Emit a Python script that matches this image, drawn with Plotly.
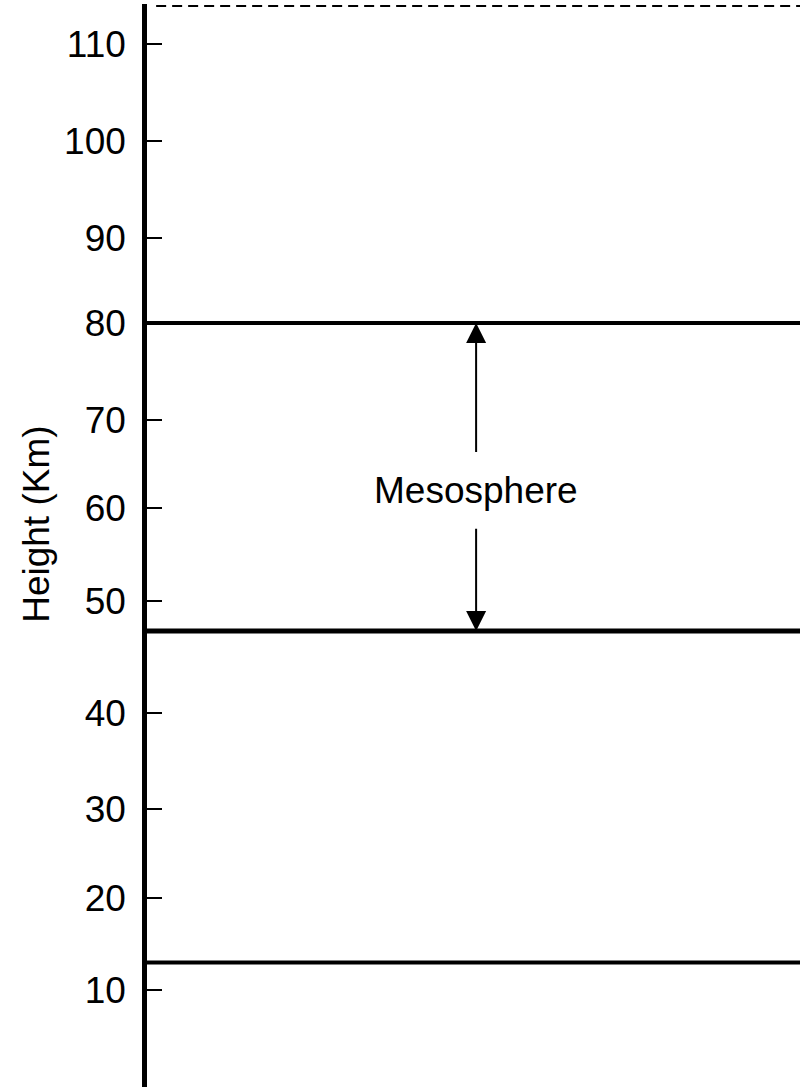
import plotly.graph_objects as go

# Data (km)
tick_values = [10.0, 19.7, 29.15, 39.3, 51.1, 60.95, 70.25, 80.5, 89.5, 99.75, 110.0]
tick_labels = ["10", "20", "30", "40", "50", "60", "70", "80", "90", "100", "110"]
boundary_heights = [12.9, 47.95, 80.5]
boundary_widths = [4, 5, 4]
top_height = 114.0
layer_name = "Mesosphere"
layer_bottom = 47.95
layer_top = 80.5
layer_label_height = 62.8
label_gap = 3.9
y_range = [-0.25, 114.2]
axis_title = "Height (Km)"

FONT = "Liberation Sans, Arial, sans-serif"
FS = 37

fig = go.Figure()
# invisible trace to establish axes
fig.add_trace(go.Scatter(x=[0, 1], y=y_range, mode="markers",
                         marker=dict(opacity=0), hoverinfo="skip", showlegend=False))

for h, w in zip(boundary_heights, boundary_widths):
    fig.add_shape(type="line", xref="paper", yref="y", x0=0, x1=1, y0=h, y1=h,
                  line=dict(color="black", width=w))

fig.add_shape(type="line", xref="paper", yref="y", x0=0.014, x1=1, y0=top_height, y1=top_height,
              line=dict(color="black", width=2, dash="10px,6px"))

arrow_x = 0.504
fig.add_annotation(x=arrow_x, y=layer_label_height, text=layer_name, showarrow=False,
                   font=dict(family=FONT, size=FS, color="black"), xref="x", yref="y")
fig.add_annotation(x=arrow_x, y=layer_top, ax=arrow_x, ay=layer_label_height + label_gap,
                   xref="x", yref="y", axref="x", ayref="y", text="", showarrow=True,
                   arrowhead=2, arrowsize=2, arrowwidth=2, arrowcolor="black")
fig.add_annotation(x=arrow_x, y=layer_bottom, ax=arrow_x, ay=layer_label_height - label_gap,
                   xref="x", yref="y", axref="x", ayref="y", text="", showarrow=True,
                   arrowhead=2, arrowsize=2, arrowwidth=2, arrowcolor="black")

# y-axis title
fig.add_annotation(x=-0.1685, y=0.52, xref="paper", yref="paper", text=axis_title,
                   textangle=-90, showarrow=False, xanchor="center", yanchor="middle",
                   font=dict(family=FONT, size=FS, color="black"))

fig.update_layout(
    width=800, height=1087,
    margin=dict(l=147, r=0, t=4, b=0),
    paper_bgcolor="white", plot_bgcolor="white",
    font=dict(family=FONT, size=FS, color="black"),
    xaxis=dict(range=[0, 1], visible=False, fixedrange=True),
    yaxis=dict(range=y_range, tickmode="array", tickvals=tick_values, ticktext=tick_labels,
               ticks="inside", ticklen=15, tickwidth=2, tickcolor="black",
               showline=True, linewidth=4.5, linecolor="black", showgrid=False,
               zeroline=False, ticklabelstandoff=9, fixedrange=True,
               tickfont=dict(family=FONT, size=FS, color="black")),
)

fig.write_html("out.html", config={"displayModeBar": False},
               post_script="document.body.style.margin='0';document.body.style.overflow='hidden';")
